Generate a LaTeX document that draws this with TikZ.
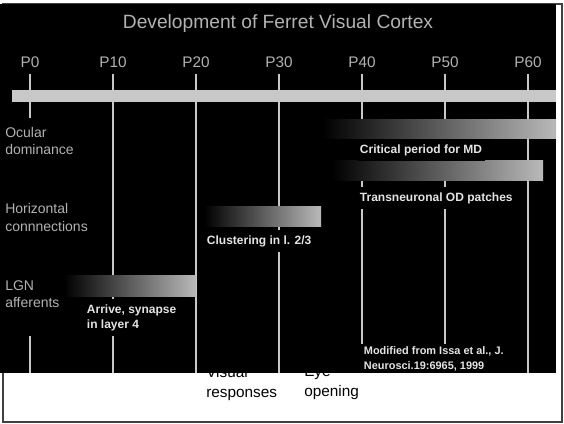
\documentclass[tikz,border=0pt]{standalone}
\usepackage{fontspec}
\setmainfont{Liberation Sans}

\definecolor{axisgray}{RGB}{200,200,200}
\definecolor{textgray}{RGB}{178,178,178}
\definecolor{barlight}{RGB}{185,185,185}
\definecolor{notewhite}{RGB}{228,228,228}

\tikzset{
  rowlabel/.style={anchor=west, align=left, text=textgray, inner sep=0pt,
    font=\fontsize{10.5}{13}\selectfont},
  barlabel/.style={fill=black, text=notewhite, inner xsep=2pt, inner ysep=4pt,
    align=left, font=\bfseries\fontsize{9}{11.25}\selectfont},
  eventlabel/.style={anchor=north west, align=left, inner sep=0pt,
    font=\fontsize{11.5}{15}\selectfont},
  period/.style={left color=black, right color=barlight},
  daytick/.style={axisgray, line width=1.5pt},
}

\begin{document}
\begin{tikzpicture}[x=0.75pt, y=-0.75pt]
\useasboundingbox (0,0) rectangle (564,424);

%page
\fill[white] (0,0) rectangle (564,424);
\draw[black!75, line width=1.5pt] (3,4) rectangle (562,422);

%events under the panel
\node[eventlabel] (visual) at (206,366) {Visual\\responses};
\node[eventlabel] (eye) at (304,366) {Eye\\opening};

%panel
\fill[black] (0,4) rectangle (556,373);
\node[text=textgray, font=\fontsize{14.4}{16}\selectfont] (title) at (278,24) {Development of Ferret Visual Cortex};

%days
\foreach \d in {0,10,...,60}{
  \node[text=textgray, font=\fontsize{11.5}{13}\selectfont] (p\d) at (30+8.3*\d,62) {P\d};
  \draw[daytick] (30+8.3*\d,74) -- (30+8.3*\d,373);
}
\fill[axisgray] (12,90) rectangle (556,102);

%rows
\fill[black] (0,118) rectangle (62,336);
\node[rowlabel] (ocular) at (5,141) {Ocular\\dominance};
\node[rowlabel] (horiz) at (5,217.5) {Horizontal\\connnections};
\node[rowlabel] (lgn) at (5,294) {LGN\\afferents};

%periods
\shade[period] (322,120) rectangle (556,139);
\shade[period] (332,161) rectangle (543,181);
\shade[period] (204,207) rectangle (321,226);
\shade[period] (64,275) rectangle (196,296);

\node[barlabel] (critical) at (421,150) {Critical period for MD};
\node[barlabel, anchor=west] (patches) at (357,198) {Transneuronal OD patches};
\node[barlabel, anchor=west] (cluster) at (204,241) {Clustering in l. 2/3};
\node[barlabel, anchor=west] (arrive) at (84,317.5) {Arrive, synapse\\in layer 4};
\node[barlabel, anchor=south west, inner ysep=1.5pt,
  font=\bfseries\fontsize{8.2}{11.25}\selectfont] (issa) at (361,373) {Modified from Issa et al., J.\\Neurosci.19:6965, 1999};
\end{tikzpicture}
\end{document}
